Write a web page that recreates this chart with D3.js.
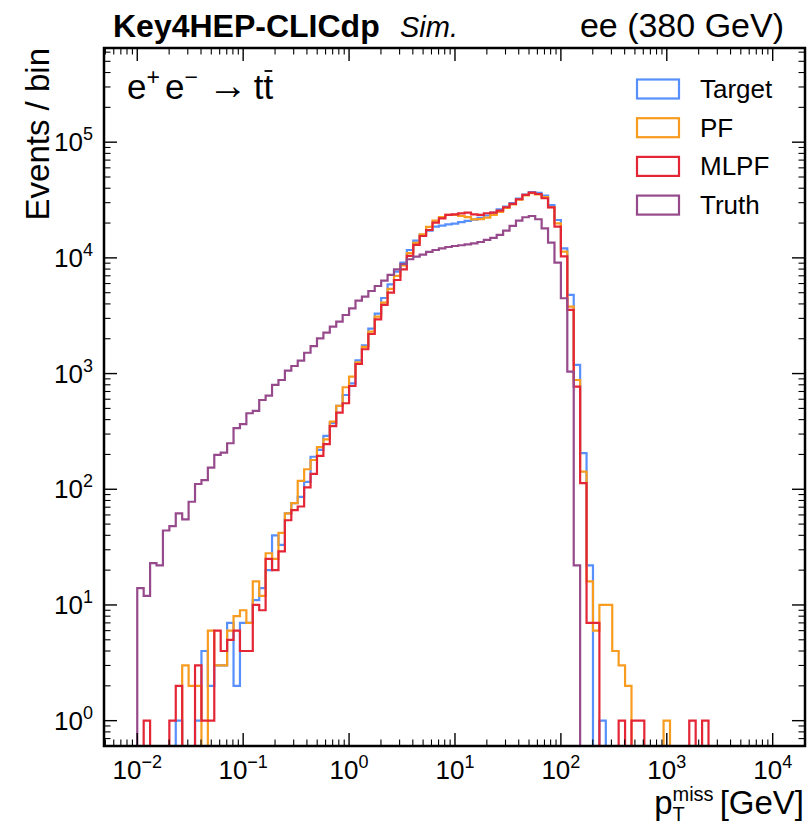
<!DOCTYPE html>
<meta charset="utf-8">
<script src="https://d3js.org/d3.v7.min.js"></script>
<style>
  body { margin: 0; background: #fff; }
  text { font-family: "Liberation Sans", Arial, Helvetica, sans-serif; fill: #000; }
</style>
<div id="chart"></div>
<script>

// binning: 99 log-spaced bins between 10^-2 and 10^4 GeV
var binLo = -2, binHi = 4, nBins = 99;

// events per bin
var target = [0,0,0,0,0,0,1,0,0,1,
  4,2,3,3,7,2,7,7,11,14,
  20,40,33,62,76,86,116,191,219,289,
  373,525,653,824,1300,1750,2450,3300,4500,5900,
  7600,9080,11700,14090,15780,17180,18600,18970,19440,19800,
  20330,20890,21450,22180,23240,24590,26300,27800,29700,32500,
  35300,37000,36500,34500,28650,21250,12100,4780,1187,205,
  22,0,1,0,0,0,0,0,0,0,
  0,0,0,0,0,0,0,0,0,0,
  0,0,0,0,0,0,0,0,0];
var pf = [0,0,0,0,0,0,0,3,2,2,
  0,6,3,3,6,8,9,7,16,12,
  28,25,42,62,76,118,149,179,231,270,
  384,525,762,940,1250,1700,2300,3100,4100,5400,
  7000,8600,11000,13500,16000,18500,21000,22500,23500,23500,
  23000,22500,21500,21600,22300,23500,25000,27000,29000,31800,
  34600,36300,35300,33500,27500,19900,11320,3785,880,142,
  16,6,10,10,4,3,2,0,0,0,
  0,0,1,0,0,0,0,0,0,0,
  0,0,0,0,0,0,0,0,0];
var mlpf = [0,1,0,0,0,1,2,0,0,3,
  1,1,6,4,5,6,4,4,10,9,
  25,20,29,54,66,71,104,136,194,246,
  352,459,554,781,1210,1622,2197,2945,3917,5010,
  6440,7960,10400,12940,15460,17420,20140,21990,23490,23810,
  24290,24600,23800,23500,24300,24600,25600,27400,29250,32100,
  34970,36630,35660,32750,27370,18600,10300,3550,771,113,
  7,7,0,0,0,1,0,1,1,0,
  0,0,0,0,0,0,1,0,1,0,
  0,0,0,0,0,0,0,0,0];
var truth = [14,12,23,22,44,48,62,55,78,111,
  120,154,198,207,250,337,366,454,476,591,
  644,797,880,1060,1163,1292,1514,1730,2018,2258,
  2543,2810,3208,3665,4266,4624,5174,5715,6353,7117,
  7962,8850,9730,10240,10660,11250,11700,12100,12420,12670,
  12850,13100,13360,13710,14280,14870,15780,17180,18870,20980,
  22440,23020,21560,18020,13520,9090,4477,1038,22,0,
  0,0,0,0,0,0,0,0,0,0,
  0,0,0,0,0,0,0,0,0,0,
  0,0,0,0,0,0,0,0,0];

var seriesNames = ["Target", "PF", "MLPF", "Truth"];
var seriesColors = ["#5790fc", "#f89c20", "#e42536", "#964a8b"];
var seriesData = [target, pf, mlpf, truth];

var xTicks = [1e-2, 1e-1, 1e0, 1e1, 1e2, 1e3, 1e4];
var xTickExp = ["\u22122", "\u22121", "0", "1", "2", "3", "4"];
var yTicks = [1e0, 1e1, 1e2, 1e3, 1e4, 1e5];
var yTickExp = ["0", "1", "2", "3", "4", "5"];

// set the dimensions and margins of the graph
var W = 810, H = 828;
var margin = {top: 48, right: 5, bottom: 82, left: 104},
    width = W - margin.left - margin.right,
    height = H - margin.top - margin.bottom;

var root = d3.select("#chart")
  .append("svg")
    .attr("width", W)
    .attr("height", H);

var svg = root.append("g")
    .attr("transform", "translate(" + margin.left + "," + margin.top + ")");

var x = d3.scaleLog()
  .domain([Math.pow(10, -2.314), Math.pow(10, 4.305)])
  .range([0, width]);
var y = d3.scaleLog()
  .domain([Math.pow(10, -0.219), Math.pow(10, 5.814)])
  .range([height, 0]);

var edges = d3.range(nBins + 1).map(function(i) {
  return Math.pow(10, binLo + (binHi - binLo) * i / nBins);
});

svg.append("clipPath").attr("id", "plotclip")
  .append("rect").attr("width", width).attr("height", height);

// histograms as steps, empty bins go below the frame
function stepPath(vals) {
  var below = height + 30;
  var p = d3.path();
  p.moveTo(x(edges[0]), below);
  vals.forEach(function(v, i) {
    var yy = v > 0 ? y(v) : below;
    p.lineTo(x(edges[i]), yy);
    p.lineTo(x(edges[i + 1]), yy);
  });
  p.lineTo(x(edges[nBins]), below);
  return p.toString();
}

var hists = svg.append("g").attr("clip-path", "url(#plotclip)");
seriesData.forEach(function(vals, i) {
  hists.append("path")
    .attr("d", stepPath(vals))
    .attr("fill", "none")
    .attr("stroke", seriesColors[i])
    .attr("stroke-width", 2.2)
    .attr("stroke-linejoin", "miter");
});

// ticks on all four sides, pointing inwards
var ticks = svg.append("g").attr("stroke", "#000");
var majLen = 13, minLen = 6.5;
function minors(scale) {
  var d = scale.domain(), out = [];
  for (var e = -4; e <= 6; e++) {
    for (var m = 2; m <= 9; m++) {
      var v = m * Math.pow(10, e);
      if (v > d[0] && v < d[1]) out.push(v);
    }
  }
  return out;
}
xTicks.forEach(function(v) {
  ticks.append("line").attr("x1", x(v)).attr("x2", x(v)).attr("y1", height).attr("y2", height - majLen).attr("stroke-width", 1.4);
  ticks.append("line").attr("x1", x(v)).attr("x2", x(v)).attr("y1", 0).attr("y2", majLen).attr("stroke-width", 1.4);
});
minors(x).forEach(function(v) {
  ticks.append("line").attr("x1", x(v)).attr("x2", x(v)).attr("y1", height).attr("y2", height - minLen).attr("stroke-width", 1.1);
  ticks.append("line").attr("x1", x(v)).attr("x2", x(v)).attr("y1", 0).attr("y2", minLen).attr("stroke-width", 1.1);
});
yTicks.forEach(function(v) {
  ticks.append("line").attr("x1", 0).attr("x2", majLen).attr("y1", y(v)).attr("y2", y(v)).attr("stroke-width", 1.4);
  ticks.append("line").attr("x1", width).attr("x2", width - majLen).attr("y1", y(v)).attr("y2", y(v)).attr("stroke-width", 1.4);
});
minors(y).forEach(function(v) {
  ticks.append("line").attr("x1", 0).attr("x2", minLen).attr("y1", y(v)).attr("y2", y(v)).attr("stroke-width", 1.1);
  ticks.append("line").attr("x1", width).attr("x2", width - minLen).attr("y1", y(v)).attr("y2", y(v)).attr("stroke-width", 1.1);
});

// frame
svg.append("rect")
  .attr("width", width).attr("height", height)
  .attr("fill", "none").attr("stroke", "#000").attr("stroke-width", 2.5);

// tick labels "10^n"
function powLabel(sel, exp) {
  sel.append("tspan").text("10");
  sel.append("tspan").attr("dy", -11).attr("font-size", 18).text(exp);
}
xTicks.forEach(function(v, i) {
  var t = svg.append("text")
    .attr("x", x(v)).attr("y", height + 33)
    .attr("text-anchor", "middle").attr("font-size", 26);
  powLabel(t, xTickExp[i]);
});
yTicks.forEach(function(v, i) {
  var t = svg.append("text")
    .attr("x", -11).attr("y", y(v) + 9)
    .attr("text-anchor", "end").attr("font-size", 26);
  powLabel(t, yTickExp[i]);
});

// lay out a run of text pieces one after the other, returns the width
function runs(g, list) {
  var cx = 0;
  list.forEach(function(r) {
    var t = g.append("text")
      .attr("x", cx).attr("y", r.shift || 0)
      .attr("font-size", r.size)
      .text(r.text);
    var wdt = t.node().getComputedTextLength();
    if (r.overline) {
      g.append("line").attr("x1", cx + 1).attr("x2", cx + wdt - 1)
        .attr("y1", -r.size * 0.8).attr("y2", -r.size * 0.8)
        .attr("stroke", "#000").attr("stroke-width", 1.8);
    }
    if (!r.stack) cx += wdt + (r.gap || 0);
  });
  return cx;
}

// title
root.append("text").attr("x", 113).attr("y", 37)
  .attr("font-size", 32).attr("font-weight", "bold").text("Key4HEP-CLICdp");
root.append("text").attr("x", 400).attr("y", 37)
  .attr("font-size", 29).attr("font-style", "italic").text("Sim.");
root.append("text").attr("x", 784).attr("y", 37)
  .attr("text-anchor", "end").attr("font-size", 34).text("ee (380 GeV)");

// process label
var proc = svg.append("g").attr("transform", "translate(23,51)");
runs(proc, [
  {text: "e", size: 35},
  {text: "+", size: 23, shift: -14, gap: 5},
  {text: "e", size: 35},
  {text: "\u2212", size: 23, shift: -14, gap: 10},
  {text: "\u2192", size: 40, gap: 6},
  {text: "t", size: 35},
  {text: "t", size: 35, overline: true}
]);

// axis labels
root.append("text")
  .attr("transform", "translate(49," + margin.top + ") rotate(-90)")
  .attr("text-anchor", "end").attr("font-size", 33)
  .text("Events / bin");

var xl = root.append("g");
var xlw = runs(xl, [
  {text: "p", size: 33},
  {text: "T", size: 20, shift: 7, stack: true},
  {text: "miss", size: 20, shift: -13, gap: 6},
  {text: "[GeV]", size: 33}
]);
xl.attr("transform", "translate(" + (W - 6 - xlw) + ",814)");

// legend
var legend = svg.append("g").attr("transform", "translate(533,30)");
seriesNames.forEach(function(name, i) {
  var row = legend.append("g").attr("transform", "translate(0," + (i * 38.7) + ")");
  row.append("rect")
    .attr("x", 0).attr("y", 1.5).attr("width", 42).attr("height", 19)
    .attr("fill", "none").attr("stroke", seriesColors[i]).attr("stroke-width", 2.2);
  row.append("text").attr("x", 63).attr("y", 20).attr("font-size", 26).text(name);
});

</script>
